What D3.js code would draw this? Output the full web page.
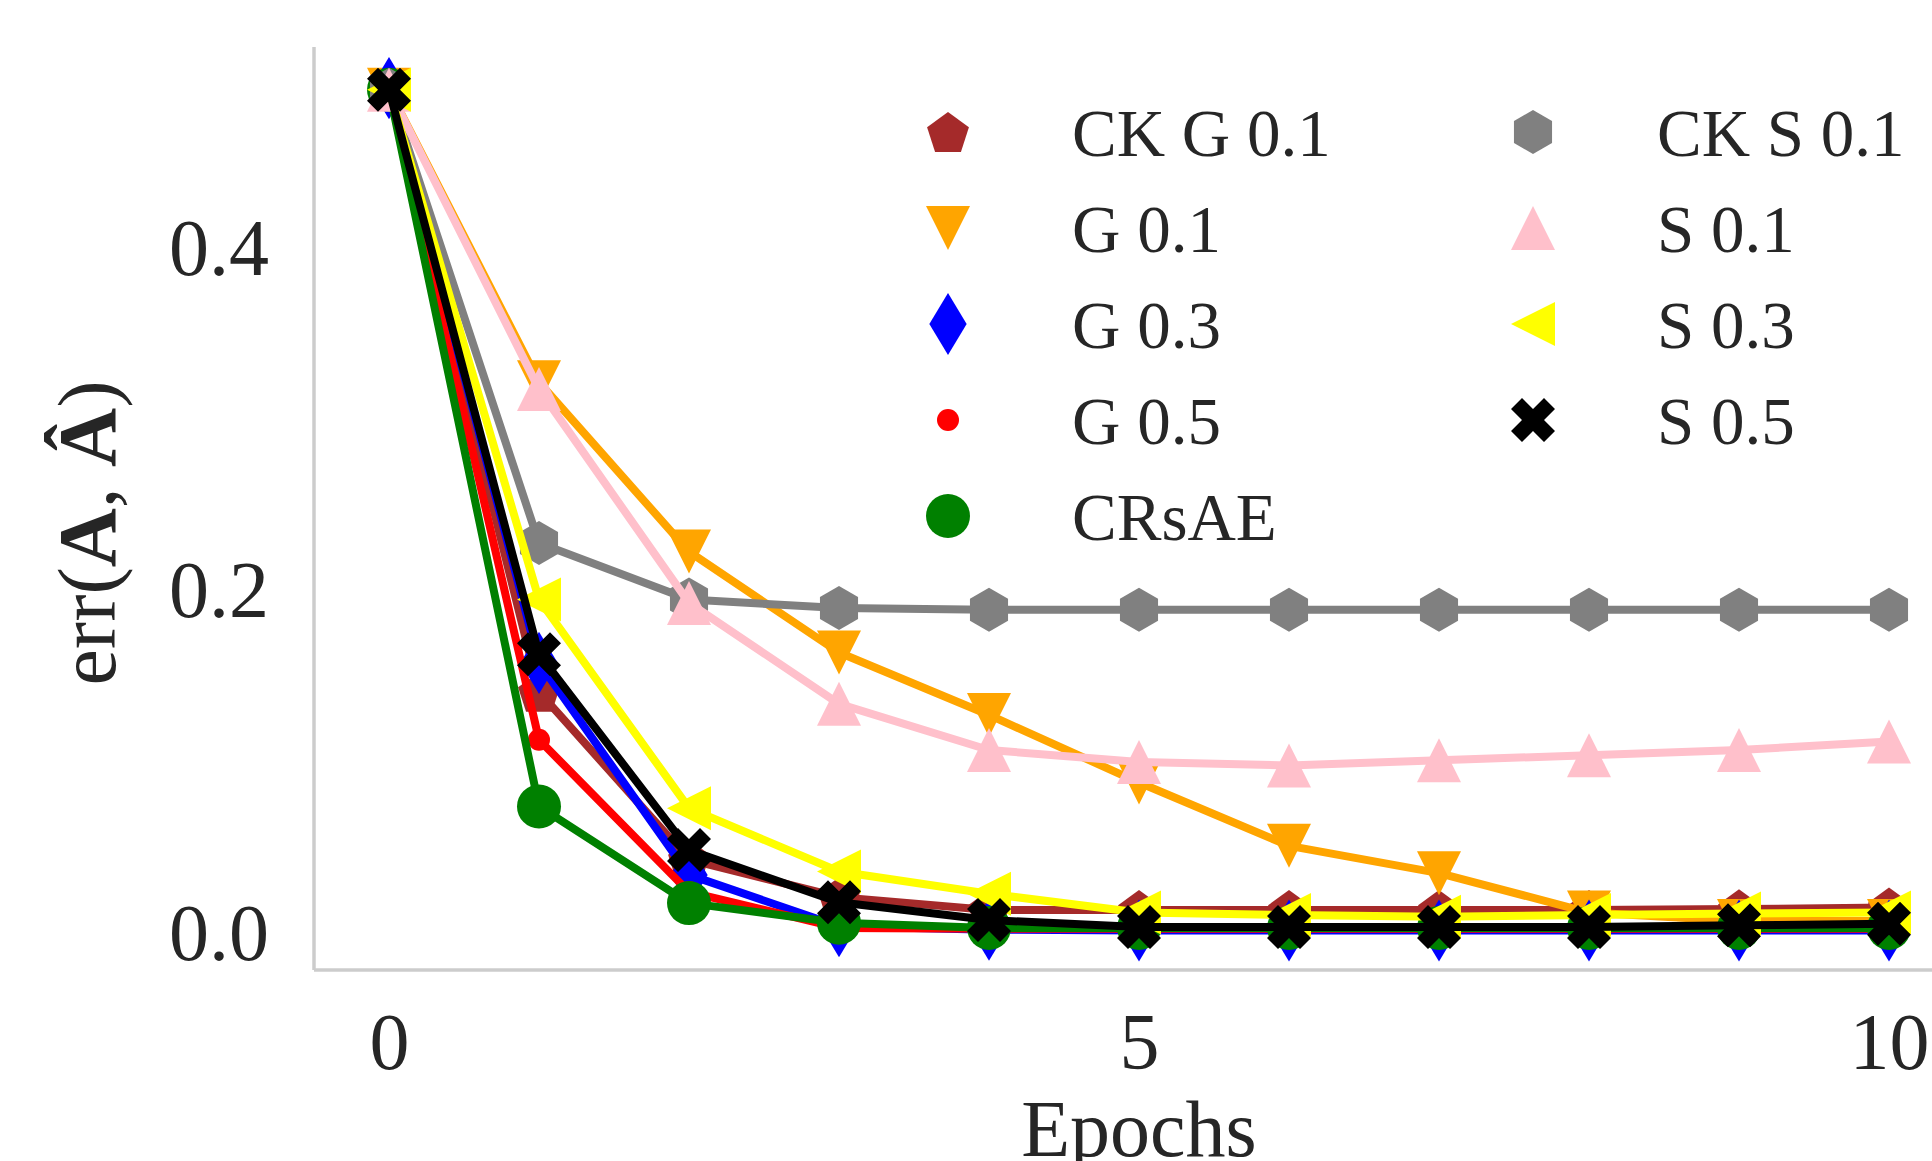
<!DOCTYPE html>
<html>
<head>
<meta charset="utf-8">
<script src="https://cdnjs.cloudflare.com/ajax/libs/d3/7.8.5/d3.min.js"></script>
<style>
  body { margin: 0; background: #fff; }
  text { font-family: "Liberation Serif", "DejaVu Serif", serif; fill: #262626; }
</style>
</head>
<body>
<svg id="chart" width="1932" height="1161"></svg>
<script>
const epochs = [0, 1, 2, 3, 4, 5, 6, 7, 8, 9, 10];

const ckG01 = [0.493, 0.141, 0.043, 0.021, 0.0135, 0.0135, 0.0135, 0.0135, 0.0135, 0.014, 0.015];
const g01   = [0.493, 0.322, 0.223, 0.164, 0.1275, 0.088, 0.051, 0.035, 0.012, 0.007, 0.007];
const g03   = [0.494, 0.158, 0.034, 0.004, 0.002, 0.0015, 0.0015, 0.0015, 0.0015, 0.0015, 0.0015];
const g05   = [0.493, 0.113, 0.024, 0.003, 0.0025, 0.0025, 0.0025, 0.0025, 0.0025, 0.0025, 0.0025];
const crsae = [0.493, 0.074, 0.0175, 0.006, 0.003, 0.003, 0.003, 0.003, 0.003, 0.003, 0.003];
const ckS01 = [0.493, 0.228, 0.195, 0.190, 0.189, 0.189, 0.189, 0.189, 0.189, 0.189, 0.189];
const s01   = [0.493, 0.318, 0.193, 0.134, 0.107, 0.100, 0.098, 0.101, 0.104, 0.107, 0.112];
const s03   = [0.493, 0.195, 0.073, 0.036, 0.023, 0.012, 0.0105, 0.0095, 0.0105, 0.0115, 0.012];
const s05   = [0.493, 0.163, 0.0485, 0.018, 0.0076, 0.0035, 0.0035, 0.0035, 0.0035, 0.0045, 0.0055];

const xTicks = [0, 5, 10];
const yTicks = [0.0, 0.2, 0.4];

// plotting order = legend order (column major, 2 columns)
const series = [
  { name: 'CK G 0.1', values: ckG01, color: 'brown',  marker: 'pentagon' },
  { name: 'G 0.1',    values: g01,   color: 'orange', marker: 'tridown' },
  { name: 'G 0.3',    values: g03,   color: 'blue',   marker: 'thindiamond' },
  { name: 'G 0.5',    values: g05,   color: 'red',    marker: 'point' },
  { name: 'CRsAE',    values: crsae, color: 'green',  marker: 'circle' },
  { name: 'CK S 0.1', values: ckS01, color: 'gray',   marker: 'hexagon' },
  { name: 'S 0.1',    values: s01,   color: 'pink',   marker: 'triup' },
  { name: 'S 0.3',    values: s03,   color: 'yellow', marker: 'trileft' },
  { name: 'S 0.5',    values: s05,   color: 'black',  marker: 'xfilled' }
];

const ms = 44;

function poly(pts) {
  return 'M' + pts.map(p => p[0].toFixed(2) + ',' + p[1].toFixed(2)).join('L') + 'Z';
}

function regular(n, r, rot) {
  return d3.range(n).map(i => {
    const a = rot + i * 2 * Math.PI / n;
    return [r * Math.sin(a), -r * Math.cos(a)];
  });
}

function markerPath(type) {
  const h = ms / 2;
  switch (type) {
    case 'circle': return d3.arc()({ innerRadius: 0, outerRadius: h, startAngle: 0, endAngle: 2 * Math.PI });
    case 'point': return d3.arc()({ innerRadius: 0, outerRadius: h / 2, startAngle: 0, endAngle: 2 * Math.PI });
    case 'pentagon': {
      const pts = regular(5, h, 0);
      const top = -h, bot = h * Math.cos(Math.PI / 5);
      const off = (top + bot) / 2;
      return poly(pts.map(p => [p[0], p[1] - off]));
    }
    case 'hexagon': return poly(regular(6, h, 0));
    case 'triup': return poly([[0, -h], [-h, h], [h, h]]);
    case 'tridown': return poly([[0, h], [-h, -h], [h, -h]]);
    case 'trileft': return poly([[-h, 0], [h, -h], [h, h]]);
    case 'thindiamond': {
      const d = ms * Math.SQRT2 / 2;
      return poly([[0, -d], [0.6 * d, 0], [0, d], [-0.6 * d, 0]]);
    }
    case 'xfilled': {
      const q = [[0.25, 0], [0.5, 0.25], [0.75, 0], [1, 0.25], [0.75, 0.5], [1, 0.75],
                 [0.75, 1], [0.5, 0.75], [0.25, 1], [0, 0.75], [0.25, 0.5], [0, 0.25]];
      return poly(q.map(p => [(p[0] - 0.5) * ms, (p[1] - 0.5) * ms]));
    }
  }
}

const svg = d3.select('#chart');

const x = d3.scaleLinear().domain([-0.5, 10.5]).range([314, 1964]);
const y = d3.scaleLinear().domain([-0.0216, 0.518]).range([970, 47]);

// spines
svg.append('line')
  .attr('x1', x(-0.5)).attr('x2', x(-0.5))
  .attr('y1', y.range()[1]).attr('y2', y.range()[0])
  .attr('stroke', '#cccccc').attr('stroke-width', 3.5);
svg.append('line')
  .attr('x1', x(-0.5)).attr('x2', 1932)
  .attr('y1', y.range()[0]).attr('y2', y.range()[0])
  .attr('stroke', '#cccccc').attr('stroke-width', 3.5);

// axes (no tick marks, labels only)
const xAxis = svg.append('g')
  .attr('transform', `translate(0, ${y.range()[0]})`)
  .call(d3.axisBottom(x).tickValues(xTicks).tickSize(0).tickFormat(d3.format('d')));
xAxis.select('.domain').remove();
xAxis.selectAll('text')
  .attr('y', 99).attr('dy', null)
  .attr('font-size', 80).attr('fill', '#262626')
  .style('font-family', '"Liberation Serif", serif');

const yAxis = svg.append('g')
  .attr('transform', `translate(${x(-0.5)}, 0)`)
  .call(d3.axisLeft(y).tickValues(yTicks).tickSize(0).tickFormat(d3.format('.1f')));
yAxis.select('.domain').remove();
yAxis.selectAll('text')
  .attr('x', -45).attr('dy', 26)
  .attr('font-size', 80).attr('fill', '#262626')
  .style('font-family', '"Liberation Serif", serif');

// axis titles (the x title runs off the bottom edge, as in the original figure)
svg.append('text')
  .attr('x', x(5)).attr('y', 1156)
  .attr('text-anchor', 'middle')
  .attr('font-size', 80)
  .text('Epochs');

const ylab = svg.append('text')
  .attr('transform', 'translate(115, 533) rotate(-90)')
  .attr('text-anchor', 'middle')
  .attr('font-size', 82);
ylab.append('tspan').text('err(');
ylab.append('tspan').attr('font-weight', 'bold').text('A');
ylab.append('tspan').text(', ');
ylab.append('tspan').attr('font-weight', 'bold').text('Â');
ylab.append('tspan').text(')');

// series
const line = d3.line()
  .x((d, i) => x(epochs[i]))
  .y(d => y(d));

series.forEach(s => {
  const g = svg.append('g');
  g.append('path')
    .datum(s.values)
    .attr('d', line)
    .attr('fill', 'none')
    .attr('stroke', s.color)
    .attr('stroke-width', 8)
    .attr('stroke-linejoin', 'round');
  g.selectAll('path.mk')
    .data(s.values)
    .join('path')
    .attr('class', 'mk')
    .attr('transform', (d, i) => `translate(${x(epochs[i])}, ${y(d)})`)
    .attr('d', markerPath(s.marker))
    .attr('fill', s.color);
});

// legend, 2 columns, column major
const legendCols = [{ mx: 948, tx: 1072 }, { mx: 1533, tx: 1657 }];
const rowsPerCol = Math.ceil(series.length / 2);
series.forEach((s, i) => {
  const col = legendCols[Math.floor(i / rowsPerCol)];
  const cy = 132 + (i % rowsPerCol) * 96;
  svg.append('path')
    .attr('transform', `translate(${col.mx}, ${cy})`)
    .attr('d', markerPath(s.marker))
    .attr('fill', s.color);
  svg.append('text')
    .attr('x', col.tx).attr('y', cy + 24)
    .attr('font-size', 67)
    .text(s.name);
});
</script>
</body>
</html>
